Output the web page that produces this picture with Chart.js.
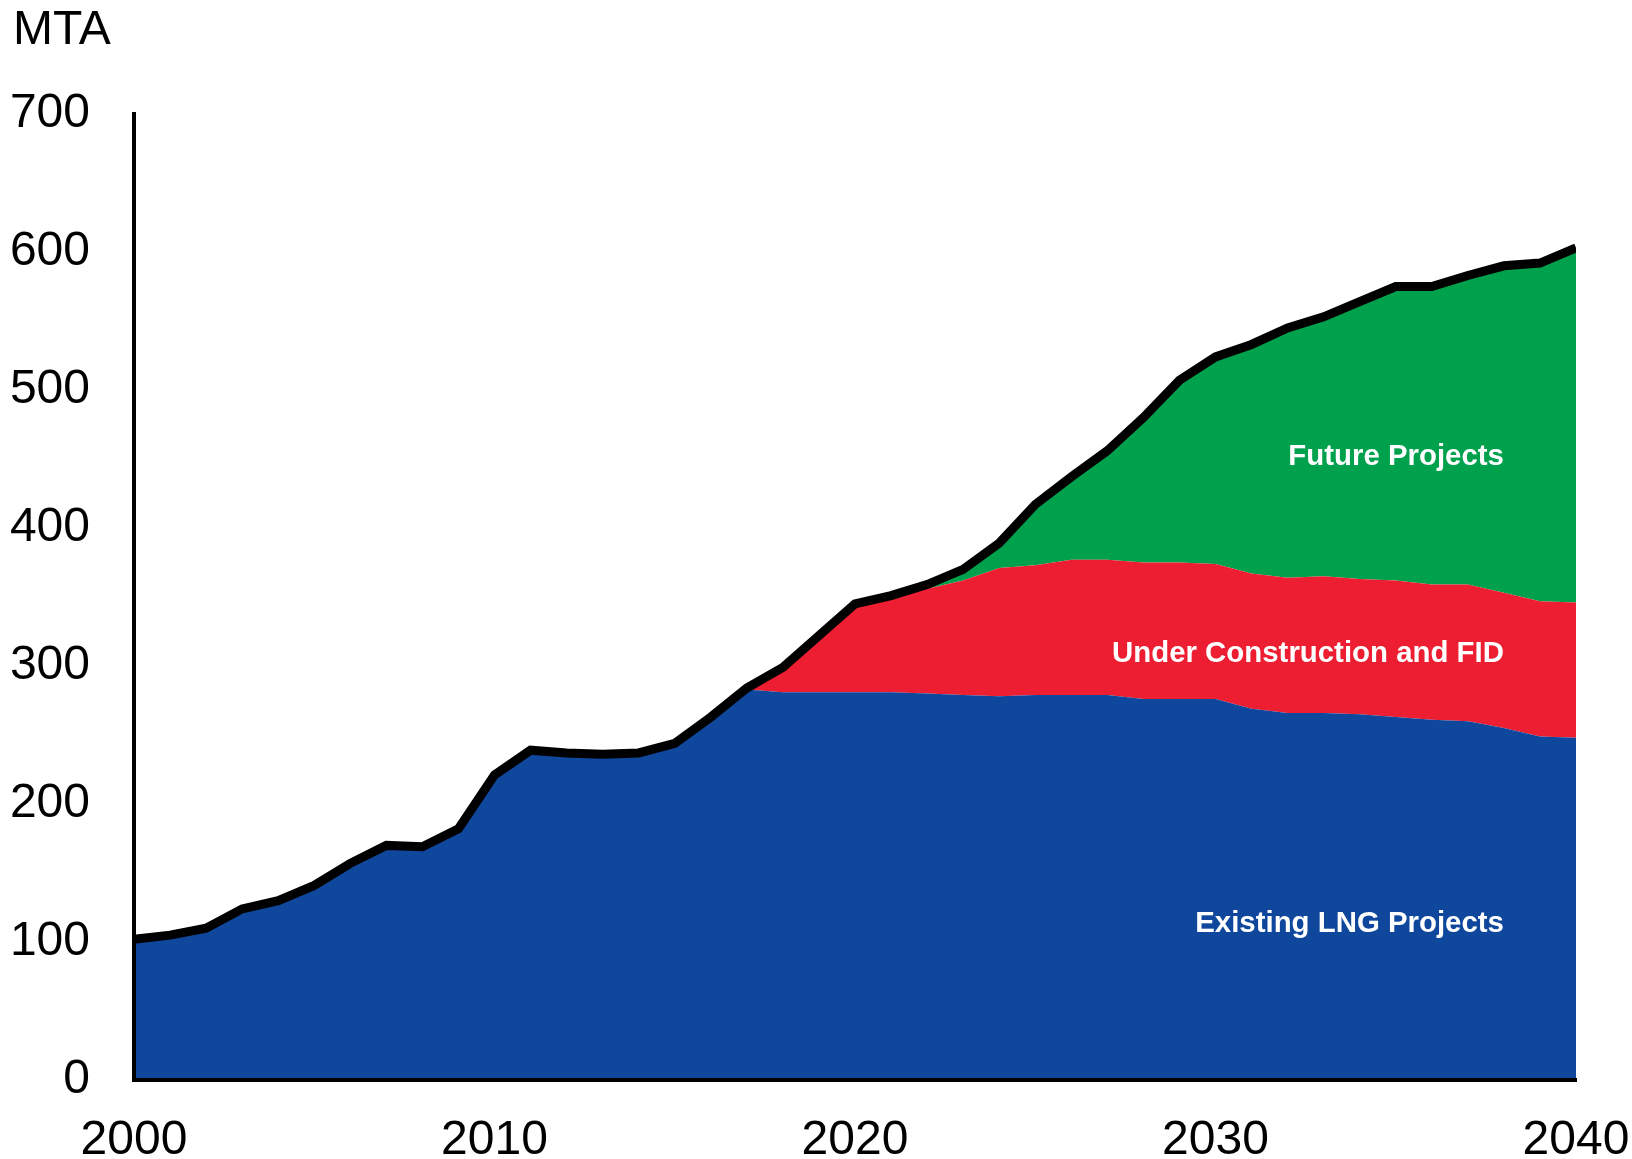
<!DOCTYPE html>
<html>
<head>
<meta charset="utf-8">
<script src="https://cdn.jsdelivr.net/npm/chart.js@4.4.1/dist/chart.umd.min.js"></script>
<style>
  html, body { margin: 0; padding: 0; background: #fff; }
  canvas { display: block; }
</style>
</head>
<body>
<canvas id="chart" width="1632" height="1159"></canvas>
<script>
const years = [];
for (let y = 2000; y <= 2040; y++) years.push(y);

// MTA
const existing = [102, 105, 110, 124, 130, 141, 157, 170, 169, 182, 221, 239, 237, 236, 237, 244, 263, 283,
  281, 281, 281, 281, 280, 279, 278, 279, 279, 279, 276, 276, 276, 269, 266, 266, 265, 263, 261, 260, 255, 249, 248];
const underConstruction = [0, 0, 0, 0, 0, 0, 0, 0, 0, 0, 0, 0, 0, 0, 0, 0, 0, 0,
  18, 41, 64, 70, 76, 83, 93, 94, 98, 98, 99, 99, 98, 98, 98, 99, 98, 99, 98, 99, 98, 98, 98];
const future = [0, 0, 0, 0, 0, 0, 0, 0, 0, 0, 0, 0, 0, 0, 0, 0, 0, 0, 0, 0, 0, 0,
  3, 8, 18, 44, 60, 79, 105, 132, 150, 166, 181, 188, 201, 213, 216, 224, 237, 245, 257];
const total = [102, 105, 110, 124, 130, 141, 157, 170, 169, 182, 221, 239, 237, 236, 237, 244, 263, 284,
  299, 322, 345, 351, 359, 370, 389, 417, 437, 456, 480, 507, 524, 533, 545, 553, 564, 575, 575, 583, 590, 592, 603];

const seriesNames = ['Existing LNG Projects', 'Under Construction and FID', 'Future Projects'];
const yTicks = [0, 100, 200, 300, 400, 500, 600, 700];
const xTicks = [2000, 2010, 2020, 2030, 2040];

const FONT = '"Liberation Sans", Arial, sans-serif';
const pts = arr => years.map((yr, i) => ({ x: yr, y: arr[i] }));

const textPlugin = {
  id: 'texts',
  afterDraw(chart) {
    const c = chart.ctx;
    const xs = chart.scales.x, ys = chart.scales.y;
    c.save();
    c.fillStyle = '#000';
    c.font = '48px ' + FONT;
    c.textAlign = 'left';
    c.textBaseline = 'alphabetic';
    c.fillText('MTA', 13, 44);
    // area labels, right aligned near 2038
    c.fillStyle = '#fff';
    c.font = 'bold 29.4px ' + FONT;
    c.textAlign = 'right';
    const lx = xs.getPixelForValue(2038);
    c.fillText(seriesNames[2], lx, ys.getPixelForValue(446));
    c.fillText(seriesNames[1], lx, ys.getPixelForValue(303));
    c.fillText(seriesNames[0], lx, ys.getPixelForValue(107));
    c.restore();
  }
};

new Chart(document.getElementById('chart'), {
  type: 'line',
  data: {
    datasets: [
      {
        label: seriesNames[0],
        data: pts(existing),
        stack: 'lng',
        backgroundColor: '#0f479c',
        borderWidth: 0,
        fill: 'origin',
        pointRadius: 0,
        tension: 0
      },
      {
        label: seriesNames[1],
        data: pts(underConstruction),
        stack: 'lng',
        backgroundColor: '#ed1e31',
        borderWidth: 0,
        fill: '-1',
        pointRadius: 0,
        tension: 0
      },
      {
        label: seriesNames[2],
        data: pts(future),
        stack: 'lng',
        backgroundColor: '#00a14c',
        borderWidth: 0,
        fill: '-1',
        pointRadius: 0,
        tension: 0
      },
      {
        label: 'Total',
        data: pts(total),
        stack: 'total',
        order: -1,
        borderColor: '#000',
        borderWidth: 9,
        fill: false,
        pointRadius: 0,
        tension: 0
      }
    ]
  },
  options: {
    responsive: false,
    animation: false,
    devicePixelRatio: 1,
    layout: { padding: { top: 114, right: 56, left: 0, bottom: 0 } },
    plugins: { legend: { display: false }, tooltip: { enabled: false } },
    scales: {
      x: {
        type: 'linear',
        min: 2000,
        max: 2040,
        grid: { display: false, drawTicks: false },
        border: { display: true, color: '#000', width: 4, z: 1 },
        afterBuildTicks: s => { s.ticks = xTicks.map(v => ({ value: v })); },
        afterFit: s => { s.height = 79; s.paddingLeft = 0; s.paddingRight = 0; },
        ticks: {
          padding: 32,
          maxRotation: 0,
          color: '#000',
          font: { family: FONT, size: 48 },
          callback: v => String(v)
        }
      },
      y: {
        stacked: true,
        min: 0,
        max: 700,
        grid: { display: false, drawTicks: false },
        border: { display: true, color: '#000', width: 4, z: 1 },
        afterBuildTicks: s => { s.ticks = yTicks.map(v => ({ value: v })); },
        afterFit: s => { s.width = 134; s.paddingTop = 0; s.paddingBottom = 0; },
        ticks: {
          padding: 44,
          color: '#000',
          font: { family: FONT, size: 48 },
          callback: v => String(v)
        }
      }
    }
  },
  plugins: [textPlugin]
});
</script>
</body>
</html>
